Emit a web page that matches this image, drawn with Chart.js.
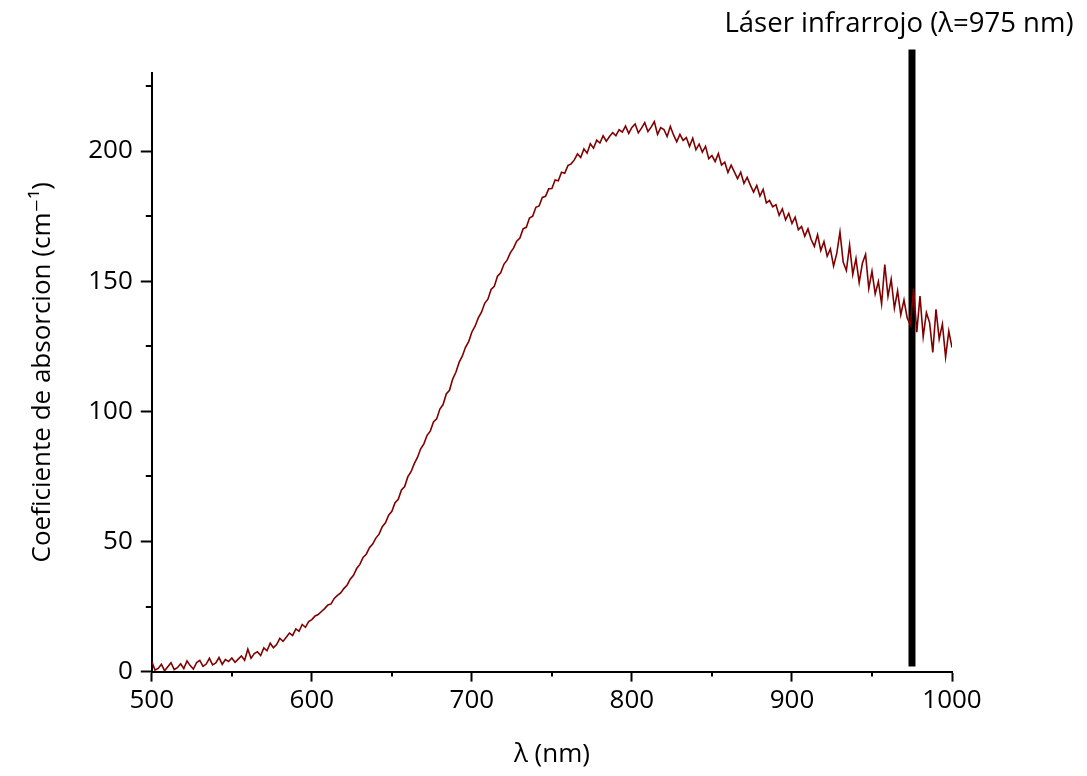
<!DOCTYPE html>
<html>
<head>
<meta charset="utf-8">
<script src="https://cdn.jsdelivr.net/npm/chart.js@4.4.1/dist/chart.umd.min.js"></script>
<style>
body { margin: 0; background: #fff; }
#wrap { width: 1087px; height: 776px; position: relative; }
</style>
</head>
<body>
<div id="wrap"><canvas id="myChart"></canvas></div>
<script>
// longitud de onda (nm), cada 2 nm
var lambda = [
  500, 502, 504, 506, 508, 510, 512, 514, 516, 518,
  520, 522, 524, 526, 528, 530, 532, 534, 536, 538,
  540, 542, 544, 546, 548, 550, 552, 554, 556, 558,
  560, 562, 564, 566, 568, 570, 572, 574, 576, 578,
  580, 582, 584, 586, 588, 590, 592, 594, 596, 598,
  600, 602, 604, 606, 608, 610, 612, 614, 616, 618,
  620, 622, 624, 626, 628, 630, 632, 634, 636, 638,
  640, 642, 644, 646, 648, 650, 652, 654, 656, 658,
  660, 662, 664, 666, 668, 670, 672, 674, 676, 678,
  680, 682, 684, 686, 688, 690, 692, 694, 696, 698,
  700, 702, 704, 706, 708, 710, 712, 714, 716, 718,
  720, 722, 724, 726, 728, 730, 732, 734, 736, 738,
  740, 742, 744, 746, 748, 750, 752, 754, 756, 758,
  760, 762, 764, 766, 768, 770, 772, 774, 776, 778,
  780, 782, 784, 786, 788, 790, 792, 794, 796, 798,
  800, 802, 804, 806, 808, 810, 812, 814, 816, 818,
  820, 822, 824, 826, 828, 830, 832, 834, 836, 838,
  840, 842, 844, 846, 848, 850, 852, 854, 856, 858,
  860, 862, 864, 866, 868, 870, 872, 874, 876, 878,
  880, 882, 884, 886, 888, 890, 892, 894, 896, 898,
  900, 902, 904, 906, 908, 910, 912, 914, 916, 918,
  920, 922, 924, 926, 928, 930, 932, 934, 936, 938,
  940, 942, 944, 946, 948, 950, 952, 954, 956, 958,
  960, 962, 964, 966, 968, 970, 972, 974, 976, 978,
  980, 982, 984, 986, 988, 990, 992, 994, 996, 998,
  1000
];

// coeficiente de absorcion (cm-1)
var absorcion = [
  3.9, 0.6, 1.2, 2.8, 0.3, 1.9, 3.4, 0.8, 1.5, 3.0,
  1.2, 4.1, 2.3, 1.0, 3.5, 4.3, 2.0, 2.9, 5.1, 2.6,
  3.3, 5.4, 2.8, 4.6, 3.9, 5.2, 3.6, 4.8, 6.0, 4.4,
  8.6, 5.1, 6.9, 7.6, 6.2, 9.1, 8.0, 10.9, 9.2, 10.4,
  12.8, 11.6, 13.2, 14.8, 13.9, 16.4, 15.5, 18.1, 17.0, 19.2,
  20.0, 21.4, 21.9, 23.1, 24.2, 25.6, 26.0, 28.1, 29.3, 30.2,
  31.9, 33.2, 35.5, 37.0, 39.6, 41.2, 43.9, 45.1, 47.6, 49.0,
  51.3, 52.8, 55.7, 57.2, 60.1, 61.6, 64.9, 66.2, 69.8, 71.1,
  74.9, 76.8, 79.9, 82.3, 85.6, 87.5, 90.8, 92.4, 95.9, 97.1,
  100.9, 102.6, 106.7, 108.1, 112.4, 115.0, 118.8, 121.2, 124.6, 126.8,
  130.5, 132.7, 135.9, 138.1, 141.5, 143.1, 146.8, 148.0, 151.9, 153.2,
  156.5, 158.1, 160.9, 162.7, 165.4, 166.6, 170.1, 170.7, 174.3, 175.0,
  178.4, 178.9, 182.2, 182.6, 185.5, 185.6, 188.9, 188.6, 191.9, 191.5,
  194.4, 195.1, 196.6, 198.9, 197.5, 200.8, 199.2, 202.8, 201.1, 204.2,
  203.1, 205.9, 203.8, 205.6, 207.1, 205.9, 208.2, 207.3, 209.6, 206.8,
  209.1, 210.4, 207.0, 208.8, 210.9, 207.5, 209.2, 211.3, 206.4, 209.0,
  208.3, 205.6, 209.5, 206.2, 203.6, 206.4, 204.1, 205.2, 201.8, 204.9,
  200.5, 202.7, 199.6, 201.8, 197.1, 198.3, 196.0, 199.1, 194.6, 195.7,
  191.8, 194.6, 192.0, 189.4, 191.9, 187.6, 189.9, 186.9, 184.2, 186.8,
  182.7, 185.3, 180.1, 181.0, 178.6, 179.4, 175.3, 177.8, 173.6, 176.1,
  172.2, 174.6, 169.8, 171.0, 167.3, 170.1, 166.0, 163.4, 167.9, 161.8,
  165.2, 159.6, 162.4, 155.8, 160.7, 168.9, 157.4, 154.1, 163.9, 152.6,
  158.7, 149.5, 156.9, 160.3, 147.2, 153.8, 145.1, 149.9, 141.3, 156.4,
  144.2, 150.8, 139.6, 146.3, 137.1, 142.8, 135.9, 133.2, 147.1, 130.4,
  144.3, 128.7, 137.9, 134.1, 122.6, 139.2, 127.8, 133.5, 120.9, 130.8,
  124.5
];

// linea del laser
var laserLambda = 975;
var laserY = [2, 239];
var laserTexto = 'Láser infrarrojo (λ=975 nm)';

// ejes
var xTicks = [500, 550, 600, 650, 700, 750, 800, 850, 900, 950, 1000];
var xEtiquetas = [500, 600, 700, 800, 900, 1000];
var yTicks = [0, 25, 50, 75, 100, 125, 150, 175, 200, 225];
var yEtiquetas = [0, 50, 100, 150, 200];

var fuente = "'Open Sans', 'DejaVu Sans', sans-serif";

var puntos = lambda.map(function (l, i) { return { x: l, y: absorcion[i] }; });
var laserPuntos = laserY.map(function (v) { return { x: laserLambda, y: v }; });

// marcas menores y texto del laser
var extras = {
    id: 'extras',
    afterDraw: function (chart) {
        var ctx = chart.ctx, sx = chart.scales.x, sy = chart.scales.y;
        ctx.save();
        ctx.strokeStyle = '#000';
        ctx.lineWidth = 2;
        xTicks.forEach(function (v) {
            if (xEtiquetas.indexOf(v) < 0) {
                var px = Math.round(sx.getPixelForValue(v));
                ctx.beginPath();
                ctx.moveTo(px, sy.bottom);
                ctx.lineTo(px, sy.bottom + 5);
                ctx.stroke();
            }
        });
        yTicks.forEach(function (v) {
            if (yEtiquetas.indexOf(v) < 0) {
                var py = Math.round(sy.getPixelForValue(v));
                ctx.beginPath();
                ctx.moveTo(sx.left, py);
                ctx.lineTo(sx.left - 6, py);
                ctx.stroke();
            }
        });
        ctx.fillStyle = '#000';
        ctx.font = '27.5px ' + fuente;
        ctx.textAlign = 'center';
        ctx.textBaseline = 'middle';
        ctx.fillText(laserTexto, sx.getPixelForValue(laserLambda) - 13, 24);
        ctx.restore();
    }
};

var ctx = document.getElementById('myChart').getContext('2d');
var grafico = new Chart(ctx, {
    type: 'scatter',
    data: {
        datasets: [{
            data: puntos,
            showLine: true,
            borderColor: '#800000',
            borderWidth: 1.6,
            pointRadius: 0,
            tension: 0
        }, {
            data: laserPuntos,
            showLine: true,
            borderColor: '#000',
            borderWidth: 7,
            pointRadius: 0,
            clip: false
        }]
    },
    options: {
        responsive: true,
        maintainAspectRatio: false,
        animation: false,
        layout: { padding: { left: 27, right: 135, top: 73, bottom: 6 } },
        plugins: { legend: { display: false }, tooltip: { enabled: false } },
        scales: {
            x: {
                type: 'linear',
                min: 500,
                max: 1000,
                afterBuildTicks: function (s) { s.ticks = xEtiquetas.map(function (v) { return { value: v }; }); },
                grid: { drawOnChartArea: false, tickLength: 10, tickWidth: 2, tickColor: '#000' },
                border: { display: true, color: '#000', width: 2 },
                ticks: { color: '#000', padding: 3, maxRotation: 0, font: { family: fuente, size: 26 },
                         callback: function (v) { return String(v); } },
                title: { display: true, text: 'λ (nm)', color: '#000', padding: { top: 20, bottom: 0 }, font: { family: fuente, size: 26 } }
            },
            y: {
                type: 'linear',
                min: 0,
                max: 230,
                afterBuildTicks: function (s) { s.ticks = yEtiquetas.map(function (v) { return { value: v }; }); },
                grid: { drawOnChartArea: false, tickLength: 11, tickWidth: 2, tickColor: '#000' },
                border: { display: true, color: '#000', width: 2 },
                ticks: { color: '#000', padding: 8, font: { family: fuente, size: 26 },
                         callback: function (v) { return String(v); } },
                title: { display: true, text: 'Coeficiente de absorcion (cm⁻¹)', color: '#000', padding: { top: 0, bottom: 22 }, font: { family: fuente, size: 26 } }
            }
        }
    },
    plugins: [extras]
});
</script>
</body>
</html>
